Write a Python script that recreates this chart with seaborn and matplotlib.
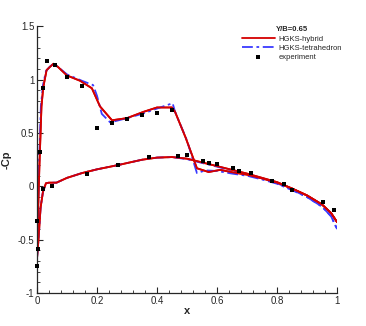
import numpy as np
import pandas as pd
import matplotlib
matplotlib.use("Agg")
import matplotlib.pyplot as plt
from matplotlib.ticker import MultipleLocator, FormatStrFormatter
import seaborn as sns

# HGKS-hybrid, upper and lower surface
x_up_hyb = [0.0, 0.003, 0.008, 0.015, 0.021, 0.032, 0.043, 0.055, 0.07, 0.1, 0.144, 0.183, 0.21,
            0.25, 0.3, 0.356, 0.4, 0.45, 0.46, 0.495, 0.533, 0.572, 0.611, 0.655, 0.7, 0.75, 0.8,
            0.85, 0.9, 0.95, 0.98, 1.0]
cp_up_hyb = [-0.68, -0.3, 0.18, 0.75, 0.93, 1.09, 1.12, 1.15, 1.12, 1.04, 0.99, 0.92, 0.75,
             0.62, 0.64, 0.70, 0.74, 0.74, 0.70, 0.46, 0.17, 0.135, 0.155, 0.13, 0.11, 0.075, 0.035,
             -0.02, -0.085, -0.17, -0.25, -0.335]
x_lo_hyb = [0.0, 0.005, 0.012, 0.02, 0.03, 0.04, 0.065, 0.1, 0.15, 0.2, 0.27, 0.35, 0.4, 0.45,
            0.5, 0.55, 0.6, 0.65, 0.7, 0.75, 0.8, 0.85, 0.9, 0.95, 0.98, 1.0]
cp_lo_hyb = [-0.68, -0.5, -0.2, -0.05, 0.03, 0.035, 0.035, 0.08, 0.125, 0.16, 0.2, 0.25, 0.27, 0.275,
             0.26, 0.225, 0.19, 0.155, 0.12, 0.08, 0.04, -0.02, -0.085, -0.17, -0.25, -0.335]

# HGKS-tetrahedron, upper and lower surface
x_up_tet = [0.0, 0.003, 0.007, 0.013, 0.02, 0.03, 0.042, 0.055, 0.07, 0.1, 0.15, 0.187, 0.2, 0.216,
            0.244, 0.3, 0.35, 0.4, 0.452, 0.46, 0.5, 0.533, 0.561, 0.6, 0.65, 0.7, 0.75, 0.8, 0.85,
            0.9, 0.95, 0.98, 1.0]
cp_up_tet = [-0.68, -0.3, 0.2, 0.75, 0.95, 1.08, 1.12, 1.15, 1.12, 1.05, 0.99, 0.95, 0.85, 0.68,
             0.60, 0.64, 0.68, 0.73, 0.78, 0.70, 0.43, 0.125, 0.15, 0.145, 0.12, 0.10, 0.065, 0.025, -0.035,
             -0.10, -0.19, -0.28, -0.40]
x_lo_tet = [0.0, 0.005, 0.012, 0.02, 0.03, 0.04, 0.065, 0.1, 0.15, 0.2, 0.27, 0.35, 0.4, 0.45,
            0.5, 0.55, 0.6, 0.65, 0.7, 0.75, 0.8, 0.85, 0.9, 0.95, 0.98, 1.0]
cp_lo_tet = [-0.68, -0.5, -0.2, -0.05, 0.03, 0.035, 0.035, 0.08, 0.125, 0.16, 0.2, 0.25, 0.27, 0.275,
             0.255, 0.22, 0.185, 0.15, 0.115, 0.075, 0.03, -0.03, -0.10, -0.19, -0.28, -0.40]

# experiment
x_exp = [0.0, 0.004, 0.0, 0.009, 0.019, 0.035, 0.061, 0.10, 0.15, 0.2, 0.25, 0.30, 0.35, 0.40, 0.45,
         0.019, 0.049, 0.168, 0.27, 0.372, 0.47, 0.50, 0.552, 0.572, 0.60, 0.652, 0.672, 0.712,
         0.784, 0.823, 0.85, 0.952, 0.989]
cp_exp = [-0.75, -0.59, -0.32, 0.32, 0.92, 1.18, 1.14, 1.03, 0.94, 0.55, 0.59, 0.63, 0.67, 0.69, 0.72,
          -0.025, 0.006, 0.116, 0.197, 0.275, 0.288, 0.297, 0.24, 0.22, 0.206, 0.169, 0.147, 0.128,
          0.053, 0.022, -0.031, -0.15, -0.222]

sns.set_style("ticks")
plt.rcParams['font.family'] = ['Liberation Sans', 'DejaVu Sans']

fig = plt.figure(figsize=(3.66, 3.26), dpi=100)
ax = fig.add_axes([0.101, 0.101, 0.82, 0.818])

red = "#d40000"
blue = "#3a3aff"
dashdot = (0, (6, 2, 1.5, 2))
sns.lineplot(x=x_up_hyb, y=cp_up_hyb, sort=False, color=red, lw=1.3, ax=ax, label="HGKS-hybrid")
sns.lineplot(x=x_lo_hyb, y=cp_lo_hyb, sort=False, color=red, lw=1.3, ax=ax)
sns.lineplot(x=x_up_tet, y=cp_up_tet, sort=False, color=blue, lw=1.3, ls=dashdot, ax=ax,
             label="HGKS-tetrahedron")
sns.lineplot(x=x_lo_tet, y=cp_lo_tet, sort=False, color=blue, lw=1.3, ls=dashdot, ax=ax)
# red on top of blue again, as in the original
sns.lineplot(x=x_up_hyb, y=cp_up_hyb, sort=False, color=red, lw=1.3, ax=ax)
sns.lineplot(x=x_lo_hyb, y=cp_lo_hyb, sort=False, color=red, lw=1.3, ax=ax)
sns.scatterplot(x=x_exp, y=cp_exp, marker="s", s=11, color="black", edgecolor="black", lw=0,
                ax=ax, label="experiment", zorder=5, clip_on=False)

ax.set_xlim(0, 1)
ax.set_ylim(-1, 1.5)
ax.xaxis.set_major_locator(MultipleLocator(0.2))
ax.xaxis.set_minor_locator(MultipleLocator(0.04))
ax.yaxis.set_major_locator(MultipleLocator(0.5))
ax.yaxis.set_minor_locator(MultipleLocator(0.1))
ax.xaxis.set_major_formatter(FormatStrFormatter("%g"))
ax.yaxis.set_major_formatter(FormatStrFormatter("%g"))
ax.tick_params(which="major", direction="in", length=4, width=0.8, labelsize=7, pad=2)
ax.tick_params(which="minor", direction="in", length=2, width=0.6)
for s in ["top", "right"]:
    ax.spines[s].set_visible(False)
for s in ["left", "bottom"]:
    ax.spines[s].set_linewidth(0.9)

ax.set_xlabel("x", fontsize=8, fontweight="bold", labelpad=0)
ax.set_ylabel("-Cp", fontsize=8, fontweight="bold", labelpad=4)

leg = ax.legend(loc="upper left", bbox_to_anchor=(0.665, 1.02), frameon=False, fontsize=5.5,
                title="Y/B=0.65", title_fontsize=5.5, handlelength=4.3, handletextpad=0.5,
                labelspacing=0.25, borderpad=0.2)
leg.get_title().set_fontweight("bold")

fig.savefig("out.png", dpi=100)
